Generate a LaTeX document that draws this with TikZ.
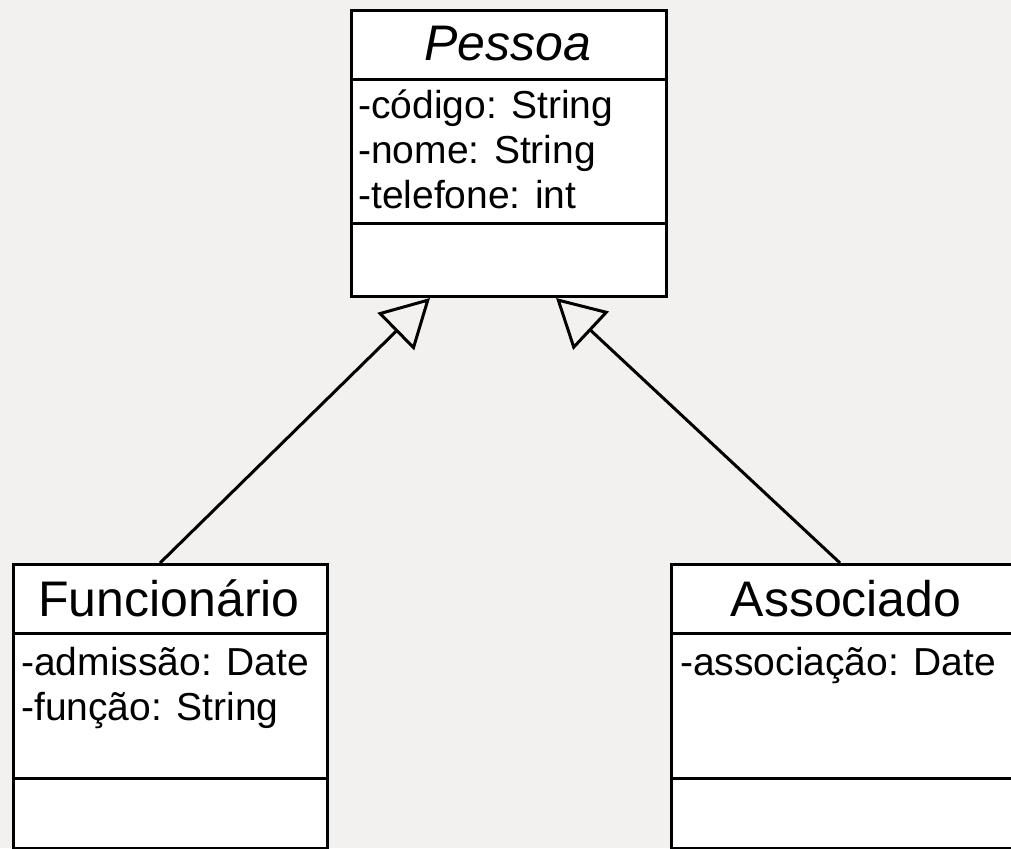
\documentclass[tikz,border=0pt]{standalone}
\usepackage{fontspec}
\setmainfont{Liberation Sans}
\usetikzlibrary{arrows.meta,calc}
\definecolor{bg}{HTML}{F2F1EF}
\tikzset{
  umlbox/.style={draw=black, line width=3pt, fill=white, inner sep=0pt, anchor=north west},
  sep/.style={line width=3pt},
  umltitle/.style={inner sep=0pt, anchor=base, font=\fontsize{50}{58}\selectfont},
  attr/.style={inner sep=0pt, anchor=base west, font=\fontsize{39}{45}\selectfont},
  inherit/.style={line width=3pt, -{Triangle[open, length=48pt, width=52pt]}},
}
\begin{document}
\begin{tikzpicture}[x=1pt,y=-1pt]
\useasboundingbox (0,0) rectangle (1011,848);
\fill[bg] (0,0) rectangle (1011,848);

% boxes
\node[umlbox, minimum width=315pt, minimum height=286pt] (p) at (350,9) {};
\node[umlbox, minimum width=314pt, minimum height=284pt] (fun) at (12,563) {};
\node[umlbox, minimum width=352pt, minimum height=284pt] (as) at (670,563) {};

% compartments
\draw[sep] ($(p.north west)+(0,71)$) -- ($(p.north east)+(0,71)$);
\draw[sep] ($(p.north west)+(0,214)$) -- ($(p.north east)+(0,214)$);
\draw[sep] ($(fun.north west)+(0,70)$) -- ($(fun.north east)+(0,70)$);
\draw[sep] ($(fun.north west)+(0,215)$) -- ($(fun.north east)+(0,215)$);
\draw[sep] ($(as.north west)+(0,70)$) -- ($(as.north east)+(0,70)$);
\draw[sep] ($(as.north west)+(0,215)$) -- ($(as.north east)+(0,215)$);

% texts
\node[umltitle] (pt) at (508,61) {\itshape Pessoa};
\node[attr] (pa1) at (358,119) {-código: String};
\node[attr] (pa2) at (358,163) {-nome: String};
\node[attr] (pa3) at (358,208) {-telefone: int};

\node[umltitle] (ft) at (169,616) {Funcionário};
\node[attr] (fa1) at (21,675) {-admissão: Date};
\node[attr] (fa2) at (21,720) {-função: String};

\node[umltitle] (at) at (846,616) {Associado};
\node[attr] (aa1) at (680,675) {-associação: Date};

% generalizations
\draw[inherit] ([xshift=148pt]fun.north west) -- ([xshift=80pt]p.south west);
\draw[inherit] ([xshift=170pt]as.north west) -- ([xshift=-112pt]p.south east);
\end{tikzpicture}
\end{document}
